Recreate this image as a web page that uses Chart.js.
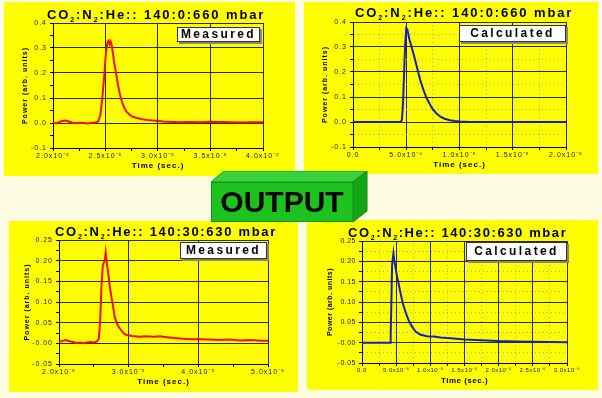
<!DOCTYPE html>
<html>
<head>
<meta charset="utf-8">
<script src="https://cdn.jsdelivr.net/npm/chart.js@4.4.1/dist/chart.umd.min.js"></script>
<style>
  body { margin: 0; width: 602px; height: 398px; overflow: hidden; position: relative;
         background: #fdfbe2; font-family: Arial, "Liberation Sans", sans-serif; }
  .panel { position: absolute; background: #ffff00; }
  .panel canvas { position: absolute; left: 0; top: 0; }
  .title { position: absolute; font-weight: bold; font-size: 13px; line-height: 13px;
           white-space: nowrap; color: #000; }
  .title sub { font-size: 7px; vertical-align: -3px; line-height: 0; }
  .tag { position: absolute; box-sizing: border-box; background: #fff; border: 1px solid #333;
         box-shadow: 2px 2px 0 #8a8a6a; font-weight: bold; font-size: 12px; text-align: center;
         letter-spacing: 2.4px; white-space: nowrap; }
  #outbox { position: absolute; left: 211px; top: 171px; width: 157px; height: 52px; }
  #outbox svg { position: absolute; left: 0; top: 0; }
  #outtext { position: absolute; left: 0; top: 11px; width: 142px; height: 40px; line-height: 40px;
             text-align: center; font-weight: bold; font-size: 30px; color: #000; }
</style>
</head>
<body>

<div class="panel" style="left:4px;top:2px;width:291px;height:174px"><canvas id="c1" width="291" height="174"></canvas></div>
<div class="panel" style="left:304px;top:2px;width:294px;height:172px"><canvas id="c2" width="294" height="172"></canvas></div>
<div class="panel" style="left:9px;top:221px;width:289px;height:171px"><canvas id="c3" width="289" height="171"></canvas></div>
<div class="panel" style="left:307px;top:220px;width:291px;height:170px"><canvas id="c4" width="291" height="170"></canvas></div>

<div class="title" style="left:47px;top:8px;letter-spacing:1.9px">CO<sub>2</sub>:N<sub>2</sub>:He:: 140:0:660 mbar</div>
<div class="title" style="left:355px;top:6px;letter-spacing:1.9px">CO<sub>2</sub>:N<sub>2</sub>:He:: 140:0:660 mbar</div>
<div class="title" style="left:55px;top:225px;letter-spacing:1.7px">CO<sub>2</sub>:N<sub>2</sub>:He:: 140:30:630 mbar</div>
<div class="title" style="left:348px;top:226px;letter-spacing:1.6px">CO<sub>2</sub>:N<sub>2</sub>:He:: 140:30:630 mbar</div>

<div class="tag" style="left:177px;top:27px;width:83px;height:15px;line-height:13px">Measured</div>
<div class="tag" style="left:459px;top:25px;width:107px;height:17px;line-height:15px">Calculated</div>
<div class="tag" style="left:180px;top:242px;width:87px;height:17px;line-height:15px">Measured</div>
<div class="tag" style="left:466px;top:242px;width:101px;height:19px;line-height:17px">Calculated</div>

<div id="outbox">
  <svg width="157" height="52">
    <polygon points="0,11 13,0 156,0 142,11" fill="#3ad23a" stroke="#149a14" stroke-width="1"/>
    <polygon points="142,11 156,0 156,40 142,51" fill="#14a514" stroke="#118811" stroke-width="1"/>
    <rect x="0.5" y="11.5" width="141.5" height="39" fill="#1ec21e" stroke="#129212" stroke-width="1"/>
  </svg>
  <div id="outtext">OUTPUT</div>
</div>

<script>
// 140:0:660 mbar, measured
const measTime1 = [2.00e-5, 2.03e-5, 2.06e-5, 2.09e-5, 2.12e-5, 2.15e-5, 2.18e-5, 2.21e-5, 2.25e-5, 2.29e-5,
  2.33e-5, 2.37e-5, 2.40e-5, 2.43e-5, 2.45e-5, 2.47e-5, 2.49e-5, 2.50e-5, 2.51e-5, 2.52e-5,
  2.53e-5, 2.54e-5, 2.55e-5, 2.56e-5, 2.57e-5, 2.58e-5, 2.60e-5, 2.62e-5, 2.64e-5, 2.66e-5,
  2.68e-5, 2.70e-5, 2.73e-5, 2.76e-5, 2.80e-5, 2.85e-5, 2.90e-5, 2.95e-5, 3.00e-5, 3.05e-5,
  3.10e-5, 3.20e-5, 3.30e-5, 3.40e-5, 3.50e-5, 3.60e-5, 3.70e-5, 3.80e-5, 3.90e-5, 4.00e-5];
const measPower1 = [0.002, -0.002, 0.004, 0.008, 0.010, 0.006, 0.002, -0.001, 0.001, 0.000,
  -0.002, 0.001, 0.002, 0.006, 0.030, 0.100, 0.200, 0.260, 0.300, 0.325,
  0.330, 0.315, 0.325, 0.310, 0.280, 0.250, 0.200, 0.150, 0.110, 0.080,
  0.060, 0.045, 0.033, 0.025, 0.020, 0.015, 0.012, 0.010, 0.008, 0.006,
  0.005, 0.003, 0.004, 0.003, 0.005, 0.004, 0.003, 0.002, 0.003, 0.003];

// 140:0:660 mbar, calculated
const calcTime1 = [0, 4.5e-6, 4.6e-6, 4.7e-6, 4.8e-6, 4.9e-6, 5.0e-6, 5.1e-6, 5.3e-6, 5.5e-6,
  5.7e-6, 6.0e-6, 6.3e-6, 6.6e-6, 6.9e-6, 7.2e-6, 7.5e-6, 7.8e-6, 8.2e-6, 8.6e-6,
  9.1e-6, 9.6e-6, 1.0e-5, 1.1e-5, 2.0e-5];
const calcPower1 = [0, 0, 0.010, 0.080, 0.200, 0.310, 0.375, 0.370, 0.330, 0.300,
  0.270, 0.220, 0.170, 0.130, 0.097, 0.072, 0.050, 0.036, 0.021, 0.013,
  0.007, 0.004, 0.002, 0.0005, 0];

// 140:30:630 mbar, measured
const measTime2 = [2.00e-5, 2.05e-5, 2.10e-5, 2.15e-5, 2.20e-5, 2.25e-5, 2.30e-5, 2.35e-5, 2.40e-5, 2.45e-5,
  2.50e-5, 2.54e-5, 2.57e-5, 2.59e-5, 2.61e-5, 2.63e-5, 2.645e-5, 2.66e-5, 2.67e-5, 2.68e-5,
  2.69e-5, 2.71e-5, 2.73e-5, 2.76e-5, 2.78e-5, 2.80e-5, 2.84e-5, 2.88e-5, 2.93e-5, 2.97e-5,
  3.05e-5, 3.15e-5, 3.25e-5, 3.35e-5, 3.45e-5, 3.55e-5, 3.65e-5, 3.78e-5, 3.90e-5, 4.02e-5,
  4.15e-5, 4.30e-5, 4.45e-5, 4.60e-5, 4.75e-5, 4.90e-5, 5.00e-5];
const measPower2 = [0.004, 0.006, 0.008, 0.005, 0.003, 0.001, 0.002, 0.000, 0.002, 0.003,
  0.002, 0.004, 0.010, 0.050, 0.140, 0.190, 0.195, 0.205, 0.220, 0.205,
  0.190, 0.165, 0.135, 0.105, 0.085, 0.064, 0.045, 0.034, 0.024, 0.020,
  0.018, 0.016, 0.017, 0.016, 0.017, 0.015, 0.013, 0.011, 0.010, 0.010,
  0.009, 0.008, 0.009, 0.007, 0.008, 0.006, 0.006];

// 140:30:630 mbar, calculated
const calcTime2 = [0, 4.1e-6, 4.2e-6, 4.3e-6, 4.4e-6, 4.5e-6, 4.6e-6, 4.7e-6, 4.9e-6, 5.1e-6,
  5.3e-6, 5.6e-6, 6.0e-6, 6.4e-6, 6.8e-6, 7.3e-6, 7.8e-6, 8.5e-6, 9.5e-6, 1.05e-5,
  1.15e-5, 1.3e-5, 1.5e-5, 1.75e-5, 2.0e-5, 2.25e-5, 2.5e-5, 2.75e-5, 3.0e-5];
const calcPower2 = [0, 0, 0.020, 0.100, 0.190, 0.190, 0.220, 0.205, 0.185, 0.165,
  0.150, 0.125, 0.095, 0.074, 0.056, 0.040, 0.028, 0.020, 0.016, 0.015,
  0.013, 0.011, 0.008, 0.006, 0.004, 0.003, 0.002, 0.0015, 0.001];

const sup = { '-': '⁻', '0': '⁰', '1': '¹', '2': '²', '3': '³', '4': '⁴', '5': '⁵', '6': '⁶', '7': '⁷', '8': '⁸', '9': '⁹' };

function sci(v) {
  if (Math.abs(v) < 1e-12) return '0.0';
  var e = Math.floor(Math.log10(Math.abs(v)) + 1e-9);
  var m = v / Math.pow(10, e);
  return m.toFixed(1) + 'x10' + String(e).split('').map(c => sup[c]).join('');
}

function isMajor(v, step) {
  var r = v / step;
  return Math.abs(r - Math.round(r)) < 1e-6;
}

function panel(id, time, power, color, o) {
  var gridColor = (step) => (c) => {
    if (c.tick && isMajor(c.tick.value, step)) return '#2a2a2a';
    return o.dotted ? '#8cc63c' : 'rgba(0,0,0,0)';
  };
  var gridDash = (step) => (c) => (c.tick && !isMajor(c.tick.value, step)) ? [1, 3] : [];

  // letter spaced text like the original plot program
  var spacing = {
    id: 'spacing',
    beforeDraw(chart) { chart.ctx.letterSpacing = o.ls; }
  };

  return new Chart(document.getElementById(id), {
    type: 'line',
    data: {
      datasets: [{
        data: time.map((t, i) => ({ x: t, y: power[i] })),
        borderColor: color,
        borderWidth: 2,
        pointRadius: 0,
        tension: 0
      }]
    },
    options: {
      responsive: false,
      animation: false,
      events: [],
      layout: { padding: { top: o.padTop, right: o.padRight, left: 0, bottom: 0 } },
      plugins: { legend: { display: false }, tooltip: { enabled: false } },
      scales: {
        x: {
          type: 'linear',
          min: o.xMin,
          max: o.xMax,
          afterFit: (s) => { s.height = o.xH; },
          ticks: {
            stepSize: o.xStep / 2,
            autoSkip: false,
            maxRotation: 0,
            padding: 1,
            color: '#222',
            font: { size: o.xFont, family: 'Arial' },
            callback: (v) => isMajor(v, o.xStep) ? sci(v) : ''
          },
          grid: { color: gridColor(o.xStep), tickColor: '#000', tickLength: 3, lineWidth: 1 },
          border: { color: '#000', width: 1, dash: gridDash(o.xStep) },
          title: {
            display: true, text: 'Time (sec.)', color: '#000',
            font: { size: 8, weight: 'bold', family: 'Arial' },
            padding: { top: 0, bottom: o.xTitlePad }
          }
        },
        y: {
          min: o.yMin,
          max: o.yMax,
          afterFit: (s) => { s.width = o.yW; },
          ticks: {
            stepSize: o.yStep / 2,
            autoSkip: false,
            padding: 3,
            color: '#222',
            font: { size: 7, family: 'Arial' },
            callback: (v) => isMajor(v, o.yStep) ? v.toFixed(o.yDec) : ''
          },
          grid: { color: gridColor(o.yStep), tickColor: '#000', tickLength: 3, lineWidth: 1 },
          border: { color: '#000', width: 1, dash: gridDash(o.yStep) },
          title: {
            display: true, text: 'Power (arb. units)', color: '#000',
            font: { size: 7, weight: 'bold', family: 'Arial' },
            padding: { top: o.yTitlePad, bottom: 0 }
          }
        }
      }
    },
    plugins: [spacing]
  });
}

panel('c1', measTime1, measPower1, '#f01212', {
  xMin: 2.0e-5, xMax: 4.0e-5, xStep: 0.5e-5, yMin: -0.1, yMax: 0.4, yStep: 0.1, yDec: 1,
  padTop: 21, padRight: 32, yW: 49, xH: 28, yTitlePad: 17, xTitlePad: 5, dotted: false,
  xFont: 7, ls: '1px'
});
panel('c2', calcTime1, calcPower1, '#1c1cc4', {
  xMin: 0, xMax: 2.0e-5, xStep: 0.5e-5, yMin: -0.1, yMax: 0.4, yStep: 0.1, yDec: 1,
  padTop: 20, padRight: 32, yW: 49, xH: 27, yTitlePad: 17, xTitlePad: 4, dotted: true,
  xFont: 7, ls: '1px'
});
panel('c3', measTime2, measPower2, '#f01212', {
  xMin: 2.0e-5, xMax: 5.0e-5, xStep: 1.0e-5, yMin: -0.05, yMax: 0.25, yStep: 0.05, yDec: 2,
  padTop: 19, padRight: 30, yW: 50, xH: 28, yTitlePad: 14, xTitlePad: 5, dotted: false,
  xFont: 7, ls: '1px'
});
panel('c4', calcTime2, calcPower2, '#1c1cc4', {
  xMin: 0, xMax: 3.0e-5, xStep: 0.5e-5, yMin: -0.05, yMax: 0.25, yStep: 0.05, yDec: 2,
  padTop: 21, padRight: 31, yW: 55, xH: 27, yTitlePad: 19, xTitlePad: 4, dotted: true,
  xFont: 6, ls: '0.5px'
});
</script>
</body>
</html>
